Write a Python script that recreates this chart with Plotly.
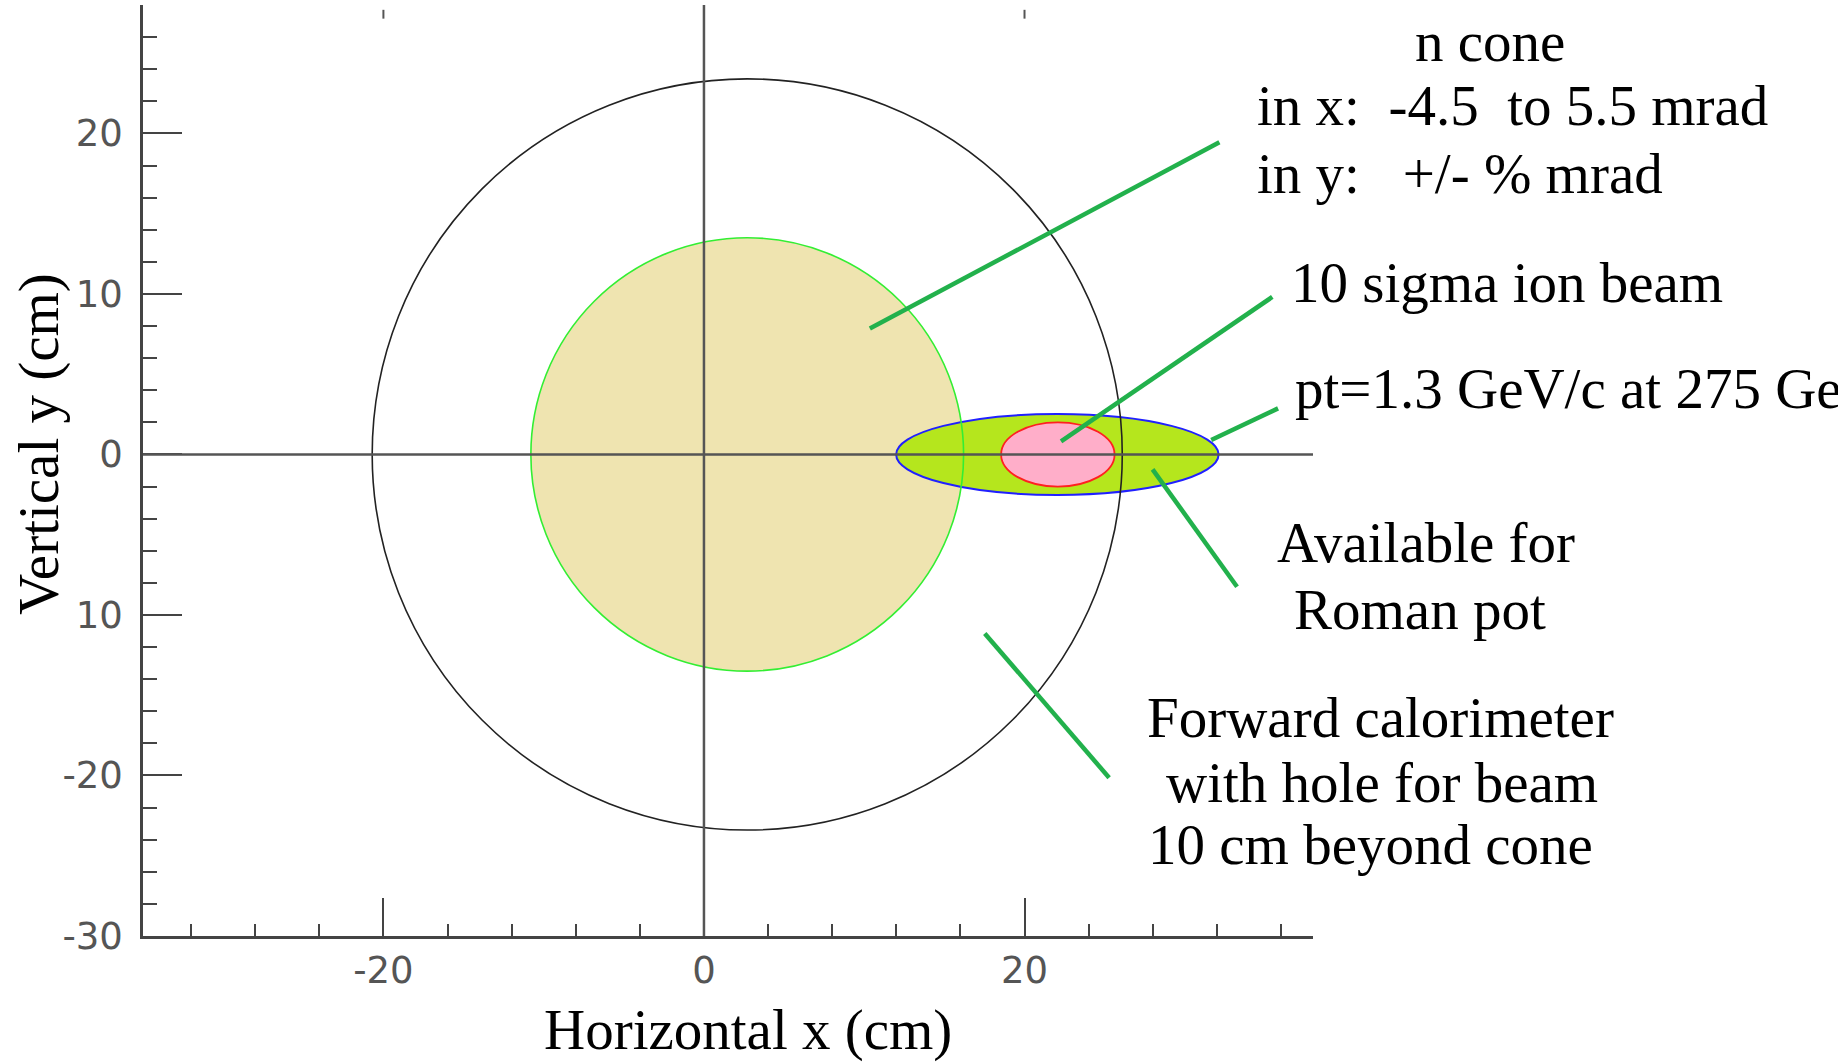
import plotly.graph_objects as go

# ---------------- data ----------------
x_major_ticks = [-20, 0, 20]
x_major_labels = ["-20", "0", "20"]
y_major_ticks = [20, 10, 0, -10, -20, -30]
y_major_labels = ["20", "10", "0", "10", "-20", "-30"]

cone_center = [2.7, 0.0]
cone_radius = 23.4
hole_center = [2.7, 0.0]
hole_radius = 13.5
pt_center = [22.05, 0.0]
pt_axes = [10.06, 2.52]
beam_center = [22.08, 0.0]
beam_axes = [3.54, 2.0]

pointer_x0 = [10.35, 22.28, 31.65, 27.99, 17.52]
pointer_y0 = [7.84, 0.82, 0.90, -0.93, -11.15]
pointer_x1 = [32.16, 35.46, 35.82, 33.26, 25.28]
pointer_y1 = [19.45, 9.81, 2.87, -8.24, -20.14]

x_range = [-35, 38]
y_range = [-30, 28]

# ---------------- layout geometry ----------------
W, H = 1838, 1063
ML, MT = 143, 5
PW, PH = 1170, 931
MR = W - ML - PW
MB = H - MT - PH


def px(xp):
    return (xp - ML) / PW


def py(yp):
    return (MT + PH - yp) / PH


SERIF = "Liberation Serif, Times New Roman, serif"
TXT = 57

fig = go.Figure()
# invisible trace to establish axes
fig.add_trace(go.Scatter(x=x_range, y=y_range, mode="markers",
                         marker=dict(opacity=0), hoverinfo="skip", showlegend=False))

shapes = []


def ellipse(c, ax, ay, **kw):
    d = dict(type="circle", xref="x", yref="y",
             x0=c[0] - ax, x1=c[0] + ax, y0=c[1] - ay, y1=c[1] + ay, layer="above")
    d.update(kw)
    return d


# tan hole fill
shapes.append(ellipse(hole_center, hole_radius, hole_radius,
                      fillcolor="#EFE4B0", line=dict(width=0)))
# pt ellipse
shapes.append(ellipse(pt_center, pt_axes[0], pt_axes[1],
                      fillcolor="#B5E61D", line=dict(color="#2020FF", width=2)))
# beam ellipse
shapes.append(ellipse(beam_center, beam_axes[0], beam_axes[1],
                      fillcolor="#FFAEC9", line=dict(color="#FF2020", width=1.8)))
# hole outline
shapes.append(ellipse(hole_center, hole_radius, hole_radius,
                      line=dict(color="#33EE33", width=1.6)))
# cone outline
shapes.append(ellipse(cone_center, cone_radius, cone_radius,
                      line=dict(color="#222222", width=1.6)))
# crosshair
shapes.append(dict(type="line", xref="x", yref="y", x0=x_range[0], x1=x_range[1],
                   y0=0, y1=0, line=dict(color="#555555", width=2.5), layer="above"))
shapes.append(dict(type="line", xref="x", yref="y", x0=0, x1=0,
                   y0=y_range[0], y1=y_range[1], line=dict(color="#555555", width=2.5),
                   layer="above"))
# small top ticks
for xv in [-20, 20]:
    shapes.append(dict(type="line", xref="x", yref="y", x0=xv, x1=xv,
                       y0=27.15, y1=27.7, line=dict(color="#555555", width=2), layer="above"))
# pointers
for a, b, c, d in zip(pointer_x0, pointer_y0, pointer_x1, pointer_y1):
    shapes.append(dict(type="line", xref="x", yref="y", x0=a, y0=b, x1=c, y1=d,
                       line=dict(color="#22B14C", width=4.5), layer="above"))

annotations = []


def txt(s, xp, yp, xanchor="left", angle=0):
    annotations.append(dict(text=s, xref="paper", yref="paper", x=px(xp), y=py(yp),
                            xanchor=xanchor, yanchor="middle", showarrow=False,
                            textangle=angle,
                            font=dict(family=SERIF, size=TXT, color="black")))


NB = "\u00a0"
DY = -5
txt("n cone", 1490, 46 + DY, "center")
txt("in x:" + NB * 2 + "-4.5" + NB * 2 + "to 5.5 mrad", 1255, 111 + DY)
txt("in y:" + NB * 3 + "+/- % mrad", 1255, 178 + DY)
txt("10 sigma ion beam", 1289, 288 + DY)
txt("pt=1.3 GeV/c at 275 GeV", 1293, 396 + DY - 2)
txt("Available for", 1426, 547 + DY, "center")
txt("Roman pot", 1420, 614 + DY, "center")
txt("Forward calorimeter", 1380, 722 + DY, "center")
txt("with hole for beam", 1382, 787 + DY, "center")
txt("10 cm beyond cone", 1370, 849 + DY, "center")
txt("Horizontal x (cm)", 748, 1033 - 3, "center")
txt("Vertical y (cm)", 39, 444, "center", angle=-90)

tickfont = dict(family="DejaVu Sans, sans-serif", size=37, color="#555555")
axcol = "#444444"

fig.update_layout(
    width=W, height=H,
    margin=dict(l=ML, r=MR, t=MT, b=MB, pad=0),
    paper_bgcolor="white", plot_bgcolor="white",
    showlegend=False,
    shapes=shapes,
    annotations=annotations,
    xaxis=dict(range=x_range, showgrid=False, zeroline=False,
               showline=True, linecolor=axcol, linewidth=2.5,
               tickmode="array", tickvals=x_major_ticks, ticktext=x_major_labels,
               ticks="inside", ticklen=38, tickwidth=2, tickcolor=axcol,
               tickfont=tickfont, ticklabelstandoff=0,
               minor=dict(ticks="inside", ticklen=12, tickwidth=2, tickcolor=axcol,
                          tickmode="linear", tick0=0, dtick=4, showgrid=False),
               fixedrange=True),
    yaxis=dict(range=y_range, showgrid=False, zeroline=False,
               showline=True, linecolor=axcol, linewidth=2.5,
               tickmode="array", tickvals=y_major_ticks, ticktext=y_major_labels,
               ticks="inside", ticklen=39, tickwidth=2, tickcolor=axcol,
               tickfont=tickfont, ticklabelstandoff=10,
               minor=dict(ticks="inside", ticklen=14, tickwidth=2, tickcolor=axcol,
                          tickmode="linear", tick0=0, dtick=2, showgrid=False),
               fixedrange=True),
)

fig.write_html("out.html", config=dict(displayModeBar=False))
